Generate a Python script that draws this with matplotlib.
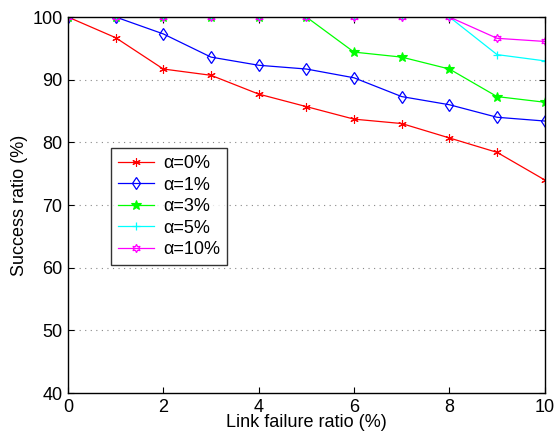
"""
Success ratio vs link failure ratio for several alpha values.
"""
import matplotlib
matplotlib.use('Agg')
import matplotlib.pyplot as plt

plt.rcParams['font.family'] = ['Liberation Sans', 'DejaVu Sans']

failure_ratio = [0, 1, 2, 3, 4, 5, 6, 7, 8, 9, 10]

alpha_0 = [100, 96.7, 91.7, 90.7, 87.7, 85.7, 83.7, 83.0, 80.7, 78.4, 74.0]
alpha_1 = [100, 100, 97.3, 93.6, 92.3, 91.7, 90.3, 87.3, 86.0, 84.0, 83.4]
alpha_3 = [100, 100, 100, 100, 100, 100, 94.4, 93.6, 91.7, 87.3, 86.4]
alpha_5 = [100, 100, 100, 100, 100, 100, 100, 100, 100, 94.0, 93.0]
alpha_10 = [100, 100, 100, 100, 100, 100, 100, 100, 100, 96.6, 96.1]

labels = ['α=0%', 'α=1%', 'α=3%', 'α=5%', 'α=10%']

fig = plt.figure(figsize=(5.57, 4.36), dpi=100)
ax = fig.add_axes([0.122, 0.0986, 0.856, 0.8624])

ax.plot(failure_ratio, alpha_0, color='#ff0000', lw=0.9, marker=(6, 2, 0),
        ms=6, mew=0.8, label=labels[0])
ax.plot(failure_ratio, alpha_1, color='#0000ff', lw=0.9, marker='d',
        ms=6, mew=0.9, mfc='none', label=labels[1])
ax.plot(failure_ratio, alpha_3, color='#00ff00', lw=0.9, marker='*',
        ms=7, mew=0.8, label=labels[2])
ax.plot(failure_ratio, alpha_5, color='#00ffff', lw=0.9, marker='+',
        ms=6, mew=0.9, label=labels[3])
ax.plot(failure_ratio, alpha_10, color='#ff00ff', lw=0.9, marker=(6, 1, 0),
        ms=6, mew=0.9, mfc='none', label=labels[4])

ax.set_xlim(0, 10)
ax.set_ylim(40, 100)
ax.set_xticks(range(0, 11, 2))
ax.set_yticks(range(40, 101, 10))
ax.tick_params(direction='in', top=True, right=True, labelsize=13, length=4)
ax.tick_params(axis='x', pad=4)
ax.tick_params(axis='y', pad=4)
for s in ax.spines.values():
    s.set_linewidth(1.0)

for yv in range(50, 100, 10):
    ax.axhline(yv, color='#888888', lw=0.8, ls=(0, (1, 4)), zorder=0)

ax.set_xlabel('Link failure ratio (%)', fontsize=13, labelpad=-1)
ax.set_ylabel('Success ratio (%)', fontsize=13, labelpad=3)

leg = ax.legend(loc='upper left', bbox_to_anchor=(0.09, 0.652), fontsize=13,
                frameon=True, fancybox=False, edgecolor='black',
                borderaxespad=0, handlelength=2.0, borderpad=0.4,
                labelspacing=0.25, handletextpad=0.5)
leg.get_frame().set_linewidth(1.0)

fig.savefig('out.png', dpi=100)
